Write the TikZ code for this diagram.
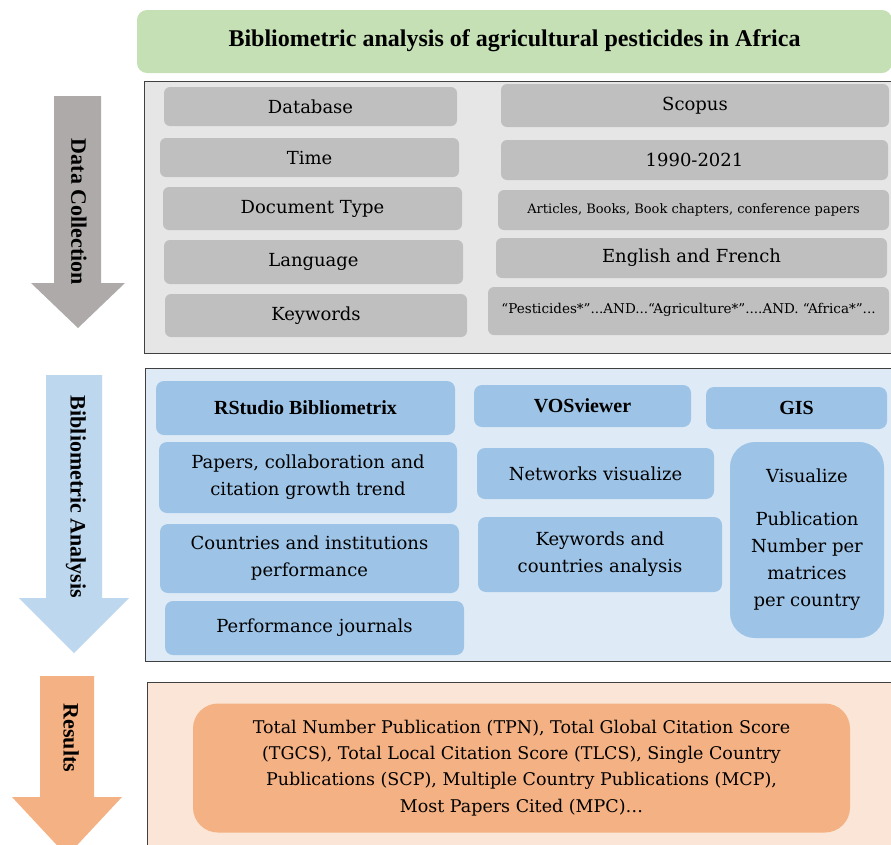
\documentclass[tikz,border=0pt]{standalone}
\usepackage{fontspec}
\setmainfont{DejaVu Serif}
\newfontfamily\headfont{Liberation Serif}
\usepackage{tikz}
\definecolor{TitleGreen}{RGB}{197,224,180}
\definecolor{PanelGrey}{RGB}{231,230,230}
\definecolor{BoxGrey}{RGB}{191,191,191}
\definecolor{ArrowGrey}{RGB}{174,170,170}
\definecolor{PanelBlue}{RGB}{222,235,247}
\definecolor{BoxBlue}{RGB}{157,195,230}
\definecolor{ArrowBlue}{RGB}{189,215,238}
\definecolor{PanelPeach}{RGB}{251,229,214}
\definecolor{ResOrange}{RGB}{244,177,131}
\definecolor{EdgeGrey}{RGB}{64,64,64}
\tikzset{every node/.style={text=black}}

\begin{document}
\begin{tikzpicture}[
    x=1pt, y=-1pt,
    panel/.style={
        draw=EdgeGrey,
        line width=1pt
    },
    titlebox/.style={
        fill=TitleGreen,
        rounded corners=10pt,
        inner sep=0pt,
        font=\headfont\bfseries\fontsize{24}{28}\selectfont
    },
    greybox/.style={
        fill=BoxGrey,
        rounded corners=6pt,
        inner sep=0pt,
        align=center,
        font=\fontsize{18}{27}\selectfont
    },
    bluebox/.style={
        fill=BoxBlue,
        rounded corners=8pt,
        inner sep=0pt,
        align=center,
        font=\fontsize{18}{27}\selectfont
    },
    bluehead/.style={
        bluebox,
        font=\headfont\bfseries\fontsize{20}{24}\selectfont
    },
    resbox/.style={
        fill=ResOrange,
        rounded corners=25pt,
        inner sep=0pt,
        align=center,
        font=\fontsize{17.5}{26.3}\selectfont
    },
    steplabel/.style={
        rotate=-90,
        inner sep=0pt,
        font=\headfont\bfseries\fontsize{22}{26}\selectfont
    }
]

\clip (0,0) rectangle (891,844);

\node[titlebox, minimum width=755pt, minimum height=63pt] (title) at (514.5,41.5)
{\raisebox{7pt}{Bibliometric analysis of agricultural pesticides in Africa}};

\fill[ArrowGrey] (54,96) -- (101,96) -- (101,283) -- (125,283) -- (78,328)
    -- (31,283) -- (54,283) -- cycle;
\node[steplabel] (collect) at (79,212) {Data Collection};

\fill[ArrowBlue] (46,375) -- (102,375) -- (102,598) -- (129,598) -- (74,653)
    -- (19,598) -- (46,598) -- cycle;
\node[steplabel] (analysis) at (76,497) {Bibliometric Analysis};

\fill[ResOrange] (40,676) -- (94,676) -- (94,797) -- (122,797) -- (67,856)
    -- (12,797) -- (40,797) -- cycle;
\node[steplabel] (results) at (71,738) {Results};

\draw[panel, fill=PanelGrey] (144,81) rectangle (905,353);

\node[greybox, minimum width=293pt, minimum height=39pt] (db) at (310.5,106.5) {Database};
\node[greybox, minimum width=299pt, minimum height=39pt] (time) at (309.5,157.5) {Time};
\node[greybox, minimum width=299pt, minimum height=43pt] (doctype) at (312.5,208.5) {Document Type};
\node[greybox, minimum width=299pt, minimum height=44pt] (lang) at (313.5,262) {Language};
\node[greybox, minimum width=302pt, minimum height=43pt] (kw) at (316,315.5) {Keywords};

\node[greybox, minimum width=388pt, minimum height=43pt] (dbval) at (695,105.5) {Scopus};
\node[greybox, minimum width=387pt, minimum height=40pt] (timeval) at (694.5,160) {1990-2021};
\node[greybox, minimum width=391pt, minimum height=40pt, font=\fontsize{13}{16}\selectfont]
    (doctypeval) at (693.5,210) {Articles, Books, Book chapters, conference papers};
\node[greybox, minimum width=391pt, minimum height=40pt] (langval) at (691.5,258) {English and French};
\node[greybox, minimum width=401pt, minimum height=48pt, font=\fontsize{13.5}{16}\selectfont]
    (kwval) at (688.5,311) {\raisebox{6pt}{“Pesticides*”...AND...“Agriculture*”....AND. “Africa*”...}};

\draw[panel, fill=PanelBlue] (145,368) rectangle (905,661);

\node[bluehead, minimum width=299pt, minimum height=54pt] (rstudio) at (305.5,408) {RStudio Bibliometrix};
\node[bluehead, minimum width=217pt, minimum height=42pt] (vos) at (582.5,406) {VOSviewer};
\node[bluehead, minimum width=181pt, minimum height=42pt] (gis) at (796.5,408) {GIS};

\node[bluebox, minimum width=298pt, minimum height=71pt] (growth) at (308,477.5)
{Papers, collaboration and\\citation growth trend};
\node[bluebox, minimum width=299pt, minimum height=69pt] (perform) at (309.5,558.5)
{Countries and institutions\\performance};
\node[bluebox, minimum width=299pt, minimum height=54pt] (journals) at (314.5,628)
{Performance journals};

\node[bluebox, minimum width=237pt, minimum height=51pt] (network) at (595.5,473.5)
{Networks visualize};
\node[bluebox, minimum width=244pt, minimum height=75pt] (keyana) at (600,554.5)
{Keywords and\\countries analysis};

\node[bluebox, rounded corners=25pt, minimum width=154pt, minimum height=196pt] (gisvis) at (807,540)
{\raisebox{3pt}{Visualize}\\[13pt]Publication\\Number per\\matrices\\per country};

\draw[panel, fill=PanelPeach] (147,682) rectangle (905,870);

\node[resbox, minimum width=657pt, minimum height=129pt] (metrics) at (521.5,768)
{Total Number Publication (TPN), Total Global Citation Score\\
(TGCS), Total Local Citation Score (TLCS), Single Country\\
Publications (SCP), Multiple Country Publications (MCP),\\
Most Papers Cited (MPC)\ldots};

\end{tikzpicture}
\end{document}
